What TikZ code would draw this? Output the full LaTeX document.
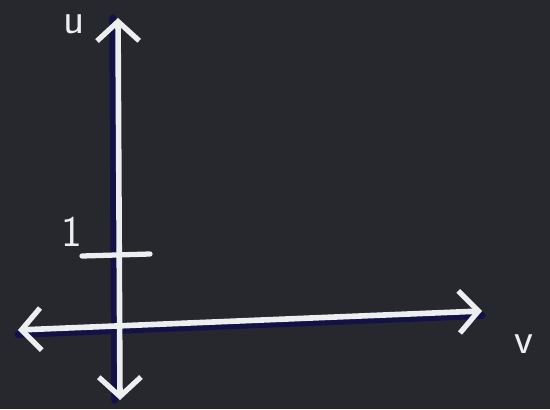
\documentclass[tikz,border=0pt]{standalone}
\usepackage{tikz}
\usetikzlibrary{positioning, arrows.meta}
\definecolor{board}{RGB}{38,40,46}
\definecolor{chalk}{RGB}{236,238,240}
\definecolor{shade}{RGB}{18,18,70}

\begin{document}
\begin{tikzpicture}[x=0.02cm,y=-0.02cm,
            axis/.style={draw=chalk,line width=3.2pt,line cap=round,
                        {Straight Barb[length=11pt,width=24pt,line width=3pt]}-{Straight Barb[length=11pt,width=24pt,line width=3pt]}},
            shadow/.style={draw=shade,line width=4pt,line cap=round},
            chalktext/.style={text=chalk,font=\sffamily\Huge,inner sep=1pt}]
        \fill[board] (0,0) rectangle (550,409);
        \useasboundingbox (0,0) rectangle (550,409);
        % axes
        \coordinate (top) at (118,18);
        \coordinate (bottom) at (120,400);
        \coordinate (left) at (18,330);
        \coordinate (right) at (482,311);
        \coordinate (tickl) at (82,256);
        \coordinate (tickr) at (150,254);
        \draw[shadow] ([xshift=-3pt]top) -- ([xshift=-3pt]bottom);
        \draw[shadow] ([yshift=-2.5pt]left) -- ([yshift=-2.5pt]right);
        \draw[axis] (bottom) -- (top);
        \draw[axis] (left) -- (right);
        \draw[chalk,line width=3pt,line cap=round] (tickl) -- (tickr);
        % labels
        \node[chalktext] (one) at (72,232) {1};
        \node[chalktext] (v) at (524,344) {v};
        \node[chalktext] (u) at (74,24) {u};
\end{tikzpicture}
\end{document}
